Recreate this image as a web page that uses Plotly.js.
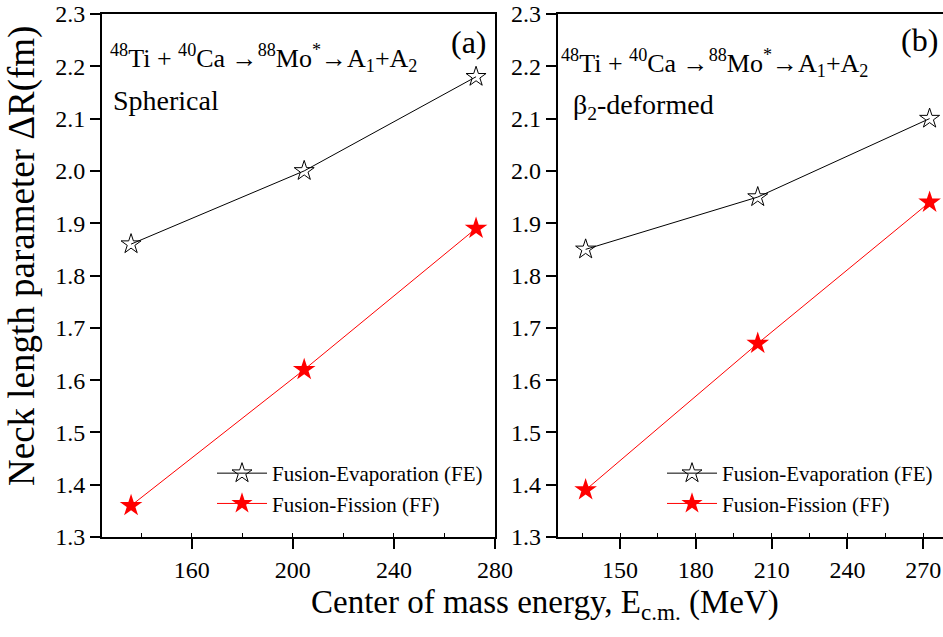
<!DOCTYPE html>
<html>
<head>
<meta charset="utf-8">
<script src="https://cdn.plot.ly/plotly-3.0.1.min.js"></script>
<style>html,body{margin:0;padding:0;background:#fff;}#chart{width:943px;height:637px;}</style>
</head>
<body>
<div id="chart"></div>
<script>
// Data
const energyA = [136, 204.5, 272.5];
const feSpherical = [1.86, 2.00, 2.18];
const ffSpherical = [1.36, 1.62, 1.89];
const energyB = [136.4, 204.5, 272.5];
const feDeformed = [1.85, 1.95, 2.10];
const ffDeformed = [1.39, 1.67, 1.94];
const yTicks = [1.3, 1.4, 1.5, 1.6, 1.7, 1.8, 1.9, 2.0, 2.1, 2.2, 2.3];
const yTickText = ['1.3','1.4','1.5','1.6','1.7','1.8','1.9','2.0','2.1','2.2','2.3'];
const xTicksA = [160, 200, 240, 280];
const xTicksB = [150, 180, 210, 240, 270];
const nameFE = 'Fusion-Evaporation (FE)';
const nameFF = 'Fusion-Fission (FF)';

const FONT = 'Liberation Serif';
const W = 943, H = 637, MT = 14, MB = 100;
const PH = H - MT - MB;
const px = v => v / W;
const py = v => (H - MB - v) / PH;

const feStyle = {mode: 'lines+markers', line: {color: '#000', width: 1},
  marker: {symbol: 'star-open', size: 15, color: '#000', line: {width: 1, color: '#000'}}};
const ffStyle = {mode: 'lines+markers', line: {color: '#ff0000', width: 1},
  marker: {symbol: 'star', size: 17, color: '#ff0000', line: {width: 0}}};

const traces = [
  Object.assign({x: energyA, y: feSpherical, name: nameFE, xaxis: 'x', yaxis: 'y', legend: 'legend'}, feStyle),
  Object.assign({x: energyA, y: ffSpherical, name: nameFF, xaxis: 'x', yaxis: 'y', legend: 'legend'}, ffStyle),
  Object.assign({x: energyB, y: feDeformed, name: nameFE, xaxis: 'x2', yaxis: 'y2', legend: 'legend2'}, feStyle),
  Object.assign({x: energyB, y: ffDeformed, name: nameFF, xaxis: 'x2', yaxis: 'y2', legend: 'legend2'}, ffStyle)
];

const axisCommon = {
  showgrid: false, zeroline: false, showline: true, linecolor: '#000', linewidth: 2,
  ticks: 'outside', ticklen: 10, tickwidth: 2, tickcolor: '#000',
  tickfont: {family: FONT, size: 24, color: '#000'}, automargin: false
};

const legendCommon = {
  font: {family: FONT, size: 21, color: '#000'}, bgcolor: 'rgba(0,0,0,0)',
  borderwidth: 0, xanchor: 'left', yanchor: 'top', tracegroupgap: 0, itemwidth: 50
};

const annFont = s => ({family: FONT, size: s, color: '#000'});

const layout = {
  width: W, height: H,
  font: {family: FONT, color: '#000'},
  margin: {l: 0, r: 0, t: MT, b: MB},
  paper_bgcolor: '#fff', plot_bgcolor: '#fff',
  showlegend: true,
  xaxis: Object.assign({}, axisCommon, {domain: [px(102), px(495)], range: [124.5, 280],
    tickmode: 'array', tickvals: xTicksA, ticktext: xTicksA.map(String), mirror: true,
    minor: {dtick: 20, tick0: 0, ticks: 'inside', ticklen: 4, tickwidth: 1, tickcolor: '#000'}, anchor: 'y'}),
  yaxis: Object.assign({}, axisCommon, {domain: [0, 1], range: [1.3, 2.3],
    tickmode: 'array', tickvals: yTicks, ticktext: yTickText, mirror: true, anchor: 'x'}),
  xaxis2: Object.assign({}, axisCommon, {domain: [px(557.7), 1], range: [125.35, 277.8],
    tickmode: 'array', tickvals: xTicksB, ticktext: xTicksB.map(String), mirror: true,
    minor: {dtick: 15, tick0: 0, ticks: 'inside', ticklen: 4, tickwidth: 1, tickcolor: '#000'}, anchor: 'y2'}),
  yaxis2: Object.assign({}, axisCommon, {domain: [0, 1], range: [1.3, 2.3],
    tickmode: 'array', tickvals: yTicks, ticktext: yTickText, mirror: false, anchor: 'x2'}),
  legend: Object.assign({}, legendCommon, {x: px(212), y: py(453)}),
  legend2: Object.assign({}, legendCommon, {x: px(662), y: py(453)}),
  annotations: [
    {text: 'Neck length parameter ΔR(fm)', xref: 'paper', yref: 'paper', x: px(22), y: py(256),
     textangle: -90, showarrow: false, font: annFont(37), xanchor: 'center', yanchor: 'middle'},
    {text: 'Center of mass energy, E<sub>c.m.</sub> (MeV)', xref: 'paper', yref: 'paper', x: px(545), y: py(604),
     showarrow: false, font: annFont(33), xanchor: 'center', yanchor: 'middle'},
    {text: '<sup>48</sup>Ti + <sup>40</sup>Ca →<sup>88</sup>Mo<sup>*</sup>→A<sub>1</sub>+A<sub>2</sub>', xref: 'paper', yref: 'paper',
     x: px(108), y: py(58), showarrow: false, font: annFont(26), xanchor: 'left', yanchor: 'middle'},
    {text: 'Spherical', xref: 'paper', yref: 'paper', x: px(111), y: py(101),
     showarrow: false, font: annFont(28), xanchor: 'left', yanchor: 'middle'},
    {text: '(a)', xref: 'paper', yref: 'paper', x: px(489), y: py(42),
     showarrow: false, font: annFont(32), xanchor: 'right', yanchor: 'middle'},
    {text: '<sup>48</sup>Ti + <sup>40</sup>Ca →<sup>88</sup>Mo<sup>*</sup>→A<sub>1</sub>+A<sub>2</sub>', xref: 'paper', yref: 'paper',
     x: px(559), y: py(63), showarrow: false, font: annFont(26), xanchor: 'left', yanchor: 'middle'},
    {text: 'β<sub>2</sub>-deformed', xref: 'paper', yref: 'paper', x: px(571), y: py(106),
     showarrow: false, font: annFont(28), xanchor: 'left', yanchor: 'middle'},
    {text: '(b)', xref: 'paper', yref: 'paper', x: px(940), y: py(40),
     showarrow: false, font: annFont(32), xanchor: 'right', yanchor: 'middle'}
  ]
};

Plotly.newPlot('chart', traces, layout, {displayModeBar: false, staticPlot: true});
</script>
</body>
</html>
